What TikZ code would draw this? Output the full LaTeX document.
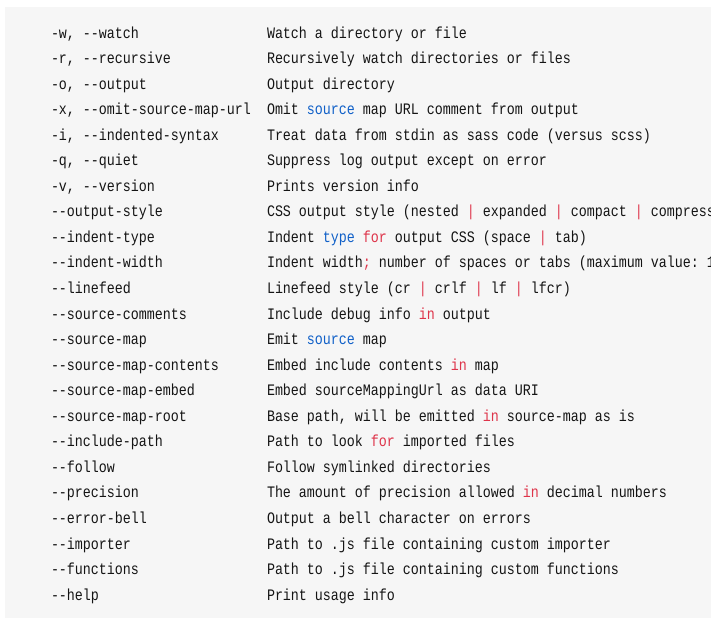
\documentclass[tikz,border=0pt]{standalone}
\usepackage{fontspec}
\setmonofont[FakeStretch=0.833]{Liberation Mono}
\definecolor{bg}{RGB}{246,246,246}
\definecolor{kwblue}{RGB}{16,96,200}
\definecolor{kwred}{RGB}{222,52,74}
\definecolor{ink}{RGB}{20,20,20}
\newcommand{\kr}[1]{\textcolor{kwred}{#1}}
\newcommand{\kb}[1]{\textcolor{kwblue}{#1}}
\tikzset{codeline/.style={anchor=base west,inner sep=0pt,outer sep=0pt,font=\ttfamily\fontsize{16}{18}\selectfont,text=ink}}
\begin{document}
\begin{tikzpicture}[x=1pt,y=-1pt]
\useasboundingbox (0,0) rectangle (711,619);
\clip (0,0) rectangle (711,619);
\fill[bg] (5,7) rectangle (711,618);
\foreach \i/\opt/\desc in {
0/{-w, --watch}/{Watch a directory or file},
1/{-r, --recursive}/{Recursively watch directories or files},
2/{-o, --output}/{Output directory},
3/{-x, --omit-source-map-url}/{Omit \kb{source} map URL comment from output},
4/{-i, --indented-syntax}/{Treat data from stdin as sass code (versus scss)},
5/{-q, --quiet}/{Suppress log output except on error},
6/{-v, --version}/{Prints version info},
7/{--output-style}/{CSS output style (nested \kr{|} expanded \kr{|} compact \kr{|} compressed)},
8/{--indent-type}/{Indent \kb{type} \kr{for} output CSS (space \kr{|} tab)},
9/{--indent-width}/{Indent width\kr{;} number of spaces or tabs (maximum value: 10)},
10/{--linefeed}/{Linefeed style (cr \kr{|} crlf \kr{|} lf \kr{|} lfcr)},
11/{--source-comments}/{Include debug info \kr{in} output},
12/{--source-map}/{Emit \kb{source} map},
13/{--source-map-contents}/{Embed include contents \kr{in} map},
14/{--source-map-embed}/{Embed sourceMappingUrl as data URI},
15/{--source-map-root}/{Base path, will be emitted \kr{in} source-map as is},
16/{--include-path}/{Path to look \kr{for} imported files},
17/{--follow}/{Follow symlinked directories},
18/{--precision}/{The amount of precision allowed \kr{in} decimal numbers},
19/{--error-bell}/{Output a bell character on errors},
20/{--importer}/{Path to .js file containing custom importer},
21/{--functions}/{Path to .js file containing custom functions},
22/{--help}/{Print usage info}}{
  \node[codeline] (o\i) at (51,{38+25.55*\i}) {\opt};
  \node[codeline] (d\i) at (267,{38+25.55*\i}) {\desc};
}
\end{tikzpicture}
\end{document}
